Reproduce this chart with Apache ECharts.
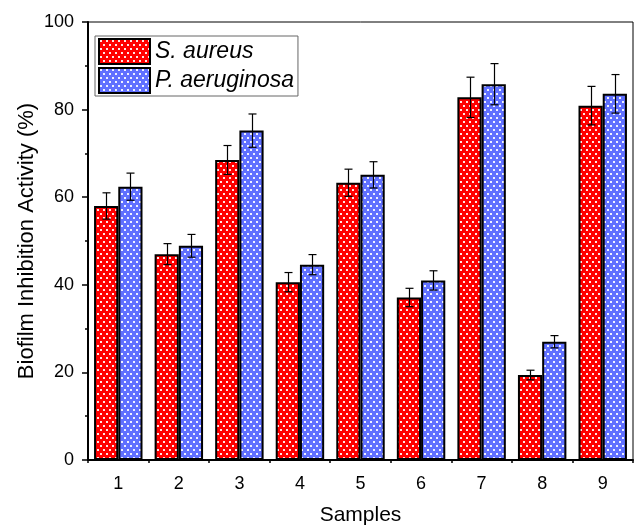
<!DOCTYPE html>
<html>

<head>
  <meta charset="utf-8">
  <title>ECharts</title>
  <script src="https://cdn.jsdelivr.net/npm/echarts@6/dist/echarts.min.js"></script>
</head>
<style>
  * {
    padding: 0;
    margin: 0;
  }

  #main {
    width: 636px;
    height: 526px;
    overflow: hidden;
    position: absolute;
    background: #fff;
  }
</style>

<body>
  <div id="main"></div>
  <script type="text/javascript">
    // data
    var categories = ['1', '2', '3', '4', '5', '6', '7', '8', '9'];
    var aureus = [58.0, 47.0, 68.5, 40.6, 63.3, 37.1, 82.8, 19.4, 80.9];
    var aureusErr = [3.0, 2.4, 3.3, 2.2, 3.1, 2.1, 4.6, 1.1, 4.4];
    var aeruginosa = [62.4, 48.9, 75.2, 44.6, 65.1, 41.0, 85.8, 27.0, 83.6];
    var aeruginosaErr = [3.1, 2.6, 3.8, 2.3, 3.0, 2.2, 4.7, 1.4, 4.4];
    var yTicks = [0, 20, 40, 60, 80, 100];

    var font = 'Liberation Sans, Arial, sans-serif';

    // dotted fill, like the Origin pattern
    function dots(bg) {
      var c = document.createElement('canvas');
      c.width = 6;
      c.height = 8;
      var ctx = c.getContext('2d');
      ctx.fillStyle = bg;
      ctx.fillRect(0, 0, 6, 8);
      ctx.fillStyle = 'rgba(255,255,255,0.9)';
      ctx.fillRect(1, 1, 2, 2);
      ctx.fillRect(4, 5, 2, 2);
      return { image: c, repeat: 'repeat' };
    }

    function errData(vals, errs) {
      return vals.map(function (v, i) { return [i, v - errs[i], v + errs[i]]; });
    }

    function errSeries(name, vals, errs, side) {
      return {
        type: 'custom',
        name: name + ' err',
        z: 5,
        data: errData(vals, errs),
        renderItem: function (params, api) {
          var band = api.size([1, 0])[0];
          var dx = side * band * 0.2;
          var lo = api.coord([api.value(0), api.value(1)]);
          var hi = api.coord([api.value(0), api.value(2)]);
          var x = Math.round(lo[0] + dx) + 0.5;
          var cap = 4;
          var st = { stroke: '#000', lineWidth: 1.2 };
          return {
            type: 'group',
            children: [
              { type: 'line', shape: { x1: x, y1: lo[1], x2: x, y2: hi[1] }, style: st },
              { type: 'line', shape: { x1: x - cap, y1: lo[1], x2: x + cap, y2: lo[1] }, style: st },
              { type: 'line', shape: { x1: x - cap, y1: hi[1], x2: x + cap, y2: hi[1] }, style: st }
            ]
          };
        }
      };
    }

    var option = {
      animation: false,
      backgroundColor: '#fff',
      grid: {
        left: 88, top: 22, right: 3, bottom: 66,
        outerBoundsMode: 'none',
        containLabel: false,
        show: true, borderColor: '#000', borderWidth: 1
      },
      legend: {
        left: 95, top: 36,
        orient: 'vertical',
        data: ['S. aureus', 'P. aeruginosa'],
        icon: 'rect',
        itemWidth: 51, itemHeight: 25, itemGap: 2,
        borderColor: '#666', borderWidth: 1,
        padding: [2, 4, 2, 3],
        textStyle: { fontFamily: font, fontStyle: 'italic', fontSize: 23, color: '#000' }
      },
      xAxis: [{
        type: 'category',
        data: categories,
        position: 'bottom',
        name: 'Samples',
        nameLocation: 'middle',
        nameGap: 45,
        nameTextStyle: { fontFamily: font, fontSize: 21, color: '#000' },
        axisLine: { lineStyle: { color: '#000', width: 2 } },
        axisTick: { alignWithLabel: true, length: 6, lineStyle: { color: '#000', width: 1.5 } },
        axisLabel: { fontFamily: font, fontSize: 18, color: '#000', margin: 15 }
      }, {
        type: 'category',
        data: categories,
        position: 'bottom',
        axisLine: { show: false },
        axisTick: { show: true, length: 3, lineStyle: { color: '#000', width: 1.5 } },
        axisLabel: { show: false }
      }],
      yAxis: {
        type: 'value',
        min: yTicks[0],
        max: yTicks[yTicks.length - 1],
        interval: yTicks[1] - yTicks[0],
        name: 'Biofilm Inhibition Activity (%)',
        nameLocation: 'middle',
        nameGap: 50,
        nameMoveOverlap: false,
        nameTextStyle: { fontFamily: font, fontSize: 22, color: '#000' },
        axisLine: { show: true, lineStyle: { color: '#000', width: 2 } },
        axisTick: { show: true, length: 6, lineStyle: { color: '#000', width: 1.5 } },
        minorTick: { show: true, splitNumber: 2, length: 3, lineStyle: { color: '#000', width: 1.5 } },
        splitLine: { show: false },
        axisLabel: { fontFamily: font, fontSize: 18, color: '#000', margin: 14 }
      },
      series: [{
        name: 'S. aureus',
        type: 'bar',
        data: aureus,
        barWidth: '40%',
        barGap: '0%',
        itemStyle: { color: dots('#ff0000'), borderColor: '#000', borderWidth: 2 }
      }, {
        name: 'P. aeruginosa',
        type: 'bar',
        data: aeruginosa,
        barWidth: '40%',
        barGap: '0%',
        itemStyle: { color: dots('#6070ff'), borderColor: '#000', borderWidth: 2 }
      },
      errSeries('S. aureus', aureus, aureusErr, -1),
      errSeries('P. aeruginosa', aeruginosa, aeruginosaErr, 1)
      ]
    };

    var myChart = echarts.init(document.getElementById('main'));
    myChart.setOption(option);
  </script>
</body>

</html>
